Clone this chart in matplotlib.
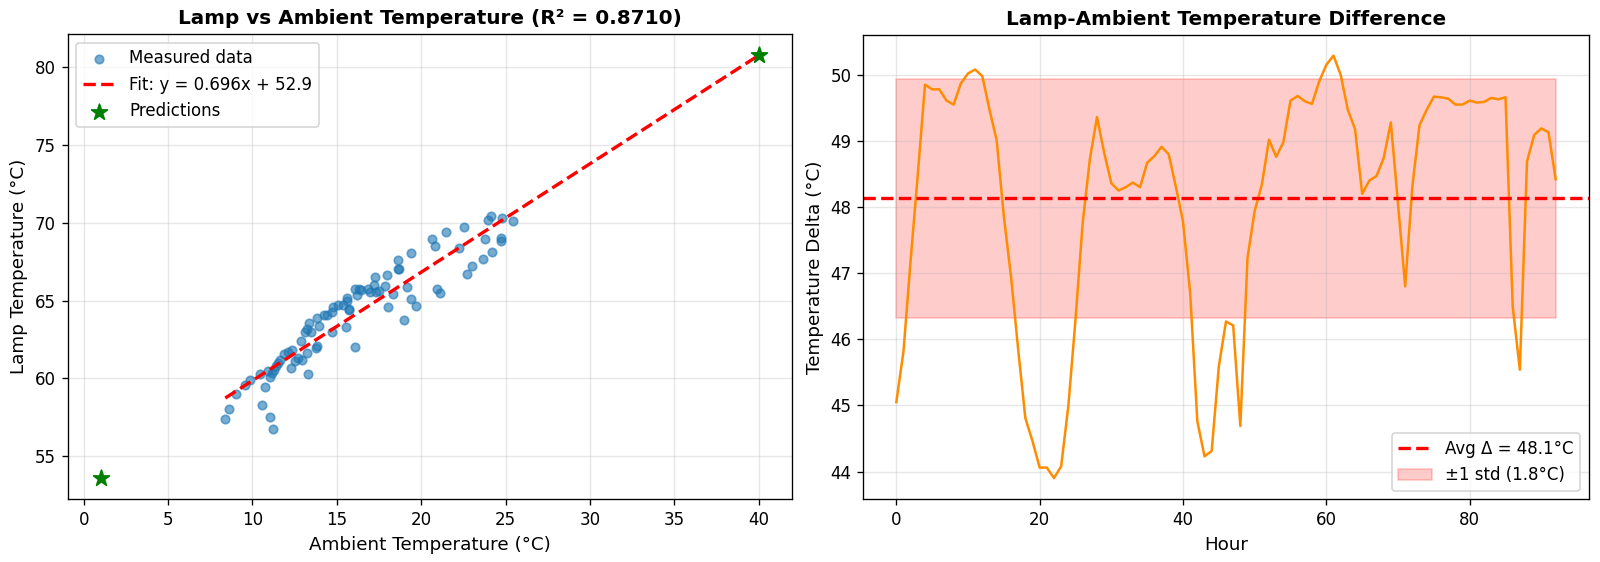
import matplotlib
matplotlib.use("Agg")
import matplotlib.pyplot as plt
import numpy as np

# ---- Left panel data: measured points ----
ambient = [8.39, 8.61, 9.05, 9.58, 9.88, 10.44, 10.77, 10.54, 11.05, 11.23,
           10.95, 11.07, 11.13, 11.27, 11.40, 11.50, 11.63, 11.87, 12.12, 12.36,
           12.26, 12.52, 12.70, 12.96, 13.31, 13.25, 12.86, 13.77, 13.85, 13.12,
           13.21, 13.35, 13.47, 13.85, 13.95, 14.25, 14.44, 14.70, 14.74, 14.80,
           15.10, 15.36, 15.60, 15.73, 15.56, 16.05, 15.60, 15.75, 16.09, 16.29,
           16.45, 16.19, 16.83, 16.98, 17.22, 17.26, 17.34, 17.50, 17.86, 17.98,
           18.02, 18.31, 18.61, 18.63, 18.68, 18.97, 19.17, 19.42, 19.40, 19.72,
           20.62, 20.82, 20.93, 21.09, 21.46, 22.51, 22.24, 22.72, 23.02, 23.66,
           24.21, 23.81, 23.99, 24.13, 24.74, 24.76, 24.80, 25.43]
lamp = [57.42, 58.06, 59.01, 59.57, 59.87, 60.26, 59.42, 58.32, 57.51, 56.77,
        60.45, 60.06, 60.34, 60.56, 60.80, 61.00, 61.18, 61.57, 61.68, 61.85,
        60.65, 61.14, 61.30, 61.20, 60.26, 61.61, 62.41, 61.98, 62.05, 62.97,
        63.18, 63.57, 63.01, 63.91, 63.35, 64.09, 64.04, 63.01, 64.26, 64.58,
        64.73, 64.73, 65.00, 64.47, 63.29, 62.00, 65.17, 64.42, 65.71, 65.75,
        65.69, 65.34, 65.71, 65.54, 65.97, 66.53, 65.56, 65.60, 65.92, 66.63,
        64.59, 65.43, 67.58, 67.00, 67.05, 63.73, 65.88, 68.03, 65.11, 64.63,
        68.94, 68.48, 65.76, 65.50, 69.38, 69.74, 68.40, 66.70, 67.24, 67.67,
        68.11, 68.93, 70.17, 70.46, 69.02, 68.85, 70.33, 70.13]

fit_slope = 0.696
fit_intercept = 52.9
r_squared = 0.8710
pred_ambient = [1.0, 40.0]

# ---- Right panel data: hourly temperature difference ----
delta = [45.05, 45.82, 47.20, 48.50, 49.85, 49.78, 49.78, 49.61, 49.55, 49.87,
         50.02, 50.08, 49.98, 49.47, 49.01, 47.86, 46.95, 45.85, 44.81, 44.46,
         44.06, 44.06, 43.90, 44.08, 44.99, 46.30, 47.76, 48.72, 49.36, 48.82,
         48.36, 48.25, 48.30, 48.37, 48.30, 48.67, 48.77, 48.91, 48.80, 48.31,
         47.78, 46.70, 44.76, 44.23, 44.31, 45.59, 46.27, 46.21, 44.69, 47.23,
         47.94, 48.34, 49.02, 48.76, 48.98, 49.61, 49.68, 49.60, 49.56, 49.90,
         50.15, 50.29, 50.00, 49.47, 49.18, 48.20, 48.40, 48.47, 48.74, 49.28,
         48.05, 46.80, 48.31, 49.24, 49.47, 49.67, 49.66, 49.64, 49.55, 49.55,
         49.61, 49.58, 49.59, 49.65, 49.63, 49.66, 46.50, 45.54, 48.69, 49.09,
         49.19, 49.13, 48.42]
hours = list(range(len(delta)))
avg_delta = 48.13
std_delta = 1.805

DPI = 120
fig = plt.figure(figsize=(1600 / DPI, 562 / DPI), dpi=DPI)
ax1 = fig.add_axes([0.0423, 0.1116, 0.4524, 0.8274])
ax2 = fig.add_axes([0.5396, 0.1116, 0.4533, 0.8270])

# Left panel
amb = np.array(ambient)
ax1.scatter(amb, lamp, s=26, alpha=0.6, color='#1f77b4', label='Measured data', zorder=2)
xs = np.array([amb.min(), max(pred_ambient)])
ax1.plot(xs, fit_slope * xs + fit_intercept, 'r--', lw=2,
         label=f'Fit: y = {fit_slope:.3f}x + {fit_intercept:.1f}', zorder=3)
pa = np.array(pred_ambient)
ax1.scatter(pa, fit_slope * pa + fit_intercept, marker='*', s=100, color='green',
            label='Predictions', zorder=4)
ax1.set_xlabel('Ambient Temperature (°C)', fontsize=11)
ax1.set_ylabel('Lamp Temperature (°C)', fontsize=11)
ax1.set_title(f'Lamp vs Ambient Temperature (R² = {r_squared:.4f})', fontsize=12, fontweight='bold')
ax1.legend(loc='upper left', fontsize=10)
ax1.grid(True, alpha=0.3)

# Right panel
ax2.plot(hours, delta, color='darkorange', lw=1.5)
ax2.axhline(avg_delta, color='red', ls='--', lw=2, label=f'Avg Δ = {avg_delta:.1f}°C')
ax2.fill_between(hours, avg_delta - std_delta, avg_delta + std_delta, color='red', alpha=0.2,
                 label=f'±1 std ({std_delta:.1f}°C)')
ax2.set_xlabel('Hour', fontsize=11)
ax2.set_ylabel('Temperature Delta (°C)', fontsize=11)
ax2.set_title('Lamp-Ambient Temperature Difference', fontsize=12, fontweight='bold')
ax2.legend(loc='lower right', fontsize=10)
ax2.grid(True, alpha=0.3)

fig.savefig('out.png', dpi=DPI)
